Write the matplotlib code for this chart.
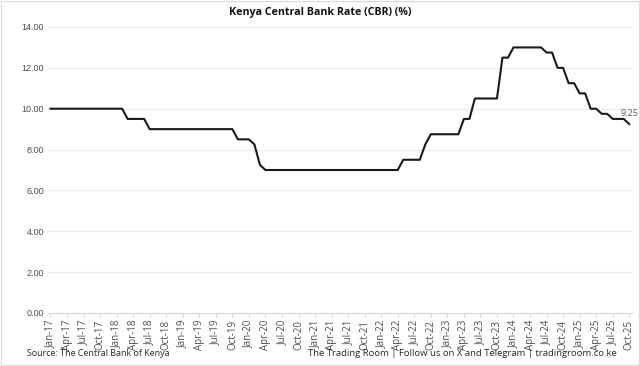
import matplotlib.pyplot as plt
from matplotlib.patches import Rectangle

# monthly CBR, Jan-17 .. Oct-25
rate = [
    10.00, 10.00, 10.00, 10.00, 10.00, 10.00, 10.00, 10.00, 10.00, 10.00, 10.00, 10.00,  # 2017
    10.00, 10.00, 9.50, 9.50, 9.50, 9.50, 9.00, 9.00, 9.00, 9.00, 9.00, 9.00,  # 2018
    9.00, 9.00, 9.00, 9.00, 9.00, 9.00, 9.00, 9.00, 9.00, 9.00, 8.50, 8.50,  # 2019
    8.50, 8.25, 7.25, 7.00, 7.00, 7.00, 7.00, 7.00, 7.00, 7.00, 7.00, 7.00,  # 2020
    7.00, 7.00, 7.00, 7.00, 7.00, 7.00, 7.00, 7.00, 7.00, 7.00, 7.00, 7.00,  # 2021
    7.00, 7.00, 7.00, 7.00, 7.50, 7.50, 7.50, 7.50, 8.25, 8.75, 8.75, 8.75,  # 2022
    8.75, 8.75, 8.75, 9.50, 9.50, 10.50, 10.50, 10.50, 10.50, 10.50, 12.50, 12.50,  # 2023
    13.00, 13.00, 13.00, 13.00, 13.00, 13.00, 12.75, 12.75, 12.00, 12.00, 11.25, 11.25,  # 2024
    10.75, 10.75, 10.00, 10.00, 9.75, 9.75, 9.50, 9.50, 9.50, 9.25,  # 2025
]

months = ['Jan', 'Feb', 'Mar', 'Apr', 'May', 'Jun', 'Jul', 'Aug', 'Sep', 'Oct', 'Nov', 'Dec']
labels = [f'{months[i % 12]}-{17 + i // 12}' for i in range(len(rate))]

fig = plt.figure(figsize=(6.4, 3.66), dpi=100)
fig.patches.append(Rectangle((0.001, 0.002), 0.997, 0.995, transform=fig.transFigure,
                             fill=False, edgecolor='#d9d9d9', linewidth=0.8))

ax = fig.add_axes([48 / 640, 1 - 313 / 366, (632 - 48) / 640, (313 - 27) / 366])

x = list(range(len(rate)))
ax.plot(x, rate, color='#1a1a1a', linewidth=1.5, solid_joinstyle='round')

ax.set_ylim(0, 14)
ax.set_xlim(-0.45, len(rate) - 1 + 0.5)
ax.set_yticks([0, 2, 4, 6, 8, 10, 12, 14])
ax.set_yticklabels([f'{v:.2f}' for v in [0, 2, 4, 6, 8, 10, 12, 14]],
                   fontsize=6.5, color='#4d4d4d', family='Liberation Sans')
ax.set_xticks(x[::3])
ax.set_xticklabels(labels[::3], rotation=90, fontsize=7, color='#4d4d4d', family='Open Sans')
ax.tick_params(axis='y', length=0, pad=3)
ax.tick_params(axis='x', length=3, color='#d9d9d9', pad=2)

ax.grid(axis='y', color='#ececec', linewidth=0.8)
ax.set_axisbelow(True)
for s in ['top', 'right', 'left']:
    ax.spines[s].set_visible(False)
ax.spines['bottom'].set_color('#d9d9d9')

ax.annotate(f'{rate[-1]:.2f}', (x[-1], rate[-1]), xytext=(0, 4), textcoords='offset points',
            ha='center', va='bottom', fontsize=6.5, color='#595959', family='Open Sans')

fig.text(0.5, 1 - 12 / 366, 'Kenya Central Bank Rate (CBR) (%)', ha='center', va='center',
         fontsize=7.7, fontweight='bold', family='Open Sans', color='#111111')
fig.text(27 / 640, 1 - 354 / 366, 'Source: The Central Bank of Kenya', ha='left', va='center',
         fontsize=6.4, family='Open Sans', color='#262626')
fig.text(617 / 640, 1 - 354 / 366,
         'The Trading Room | Follow us on X and Telegram | tradingroom.co.ke',
         ha='right', va='center', fontsize=6.8, family='Open Sans', color='#262626')

fig.savefig('out.png', dpi=100)
